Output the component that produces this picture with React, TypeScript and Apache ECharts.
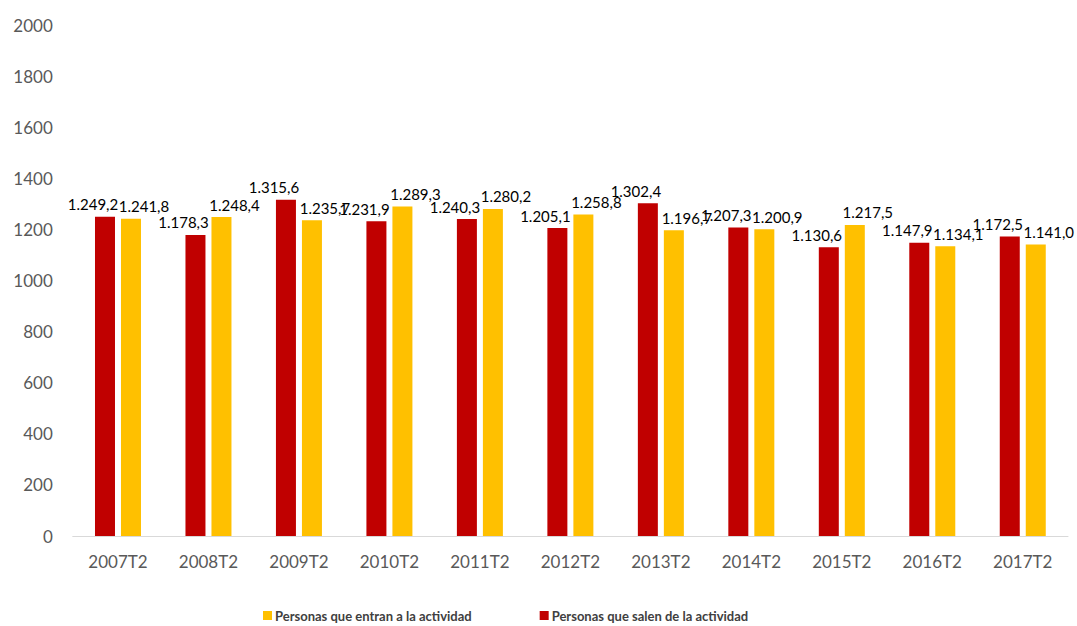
import React, { useEffect, useRef } from "react";
import * as echarts from "echarts";

const categories = ["2007T2", "2008T2", "2009T2", "2010T2", "2011T2", "2012T2", "2013T2", "2014T2", "2015T2", "2016T2", "2017T2"];
const salen = [1249.2, 1178.3, 1315.6, 1231.9, 1240.3, 1205.1, 1302.4, 1207.3, 1130.6, 1147.9, 1172.5];
const entran = [1241.8, 1248.4, 1235.7, 1289.3, 1280.2, 1258.8, 1196.7, 1200.9, 1217.5, 1134.1, 1141.0];
const nameEntran = "Personas que entran a la actividad";
const nameSalen = "Personas que salen de la actividad";

function fmt(v: number): string {
  const [i, d] = v.toFixed(1).split(".");
  return i.replace(/\B(?=(\d{3})+(?!\d))/g, ".") + "," + d;
}

export default function App() {
  const ref = useRef<HTMLDivElement>(null);
  useEffect(() => {
    const chart = echarts.init(ref.current!, null, { renderer: "svg" });
    const font = "Lato, 'Open Sans', sans-serif";
    chart.setOption({
      animation: false,
      textStyle: { fontFamily: font },
      grid: { left: 72.75, right: 9, top: 25, bottom: 90, containLabel: false },
      legend: {
        data: [nameEntran, nameSalen],
        left: 263,
        top: 609,
        itemWidth: 9,
        itemHeight: 9,
        itemGap: 68,
        icon: "rect",
        padding: 0,
        textStyle: { fontFamily: font, fontSize: 13, fontWeight: "bold", color: "#404040", padding: [0, 0, 0, -2] },
      },
      xAxis: {
        type: "category",
        data: categories,
        axisLine: { lineStyle: { color: "#d9d9d9", width: 1 } },
        axisTick: { show: false },
        axisLabel: { color: "#595959", fontSize: 17, margin: 17, fontFamily: font },
      },
      yAxis: {
        type: "value",
        min: 0,
        max: 2000,
        interval: 200,
        splitLine: { show: false },
        axisLine: { show: false },
        axisTick: { show: false },
        axisLabel: { color: "#595959", fontSize: 17, margin: 20, fontFamily: font, formatter: (v: number) => String(v) },
      },
      series: [
        {
          name: nameSalen,
          type: "bar",
          data: salen,
          barWidth: 20,
          barGap: "30%",
          itemStyle: { color: "#C00000" },
          label: {
            show: true,
            position: "top",
            offset: [-12, 0],
            color: "#000",
            fontSize: 15,
            fontFamily: font,
            formatter: (p: any) => fmt(p.value),
          },
        },
        {
          name: nameEntran,
          type: "bar",
          data: entran,
          barWidth: 20,
          barGap: "30%",
          itemStyle: { color: "#FFC000" },
          label: {
            show: true,
            position: "top",
            offset: [13, 0],
            color: "#000",
            fontSize: 15,
            fontFamily: font,
            formatter: (p: any) => fmt(p.value),
          },
        },
      ],
    });
    return () => chart.dispose();
  }, []);
  return <div ref={ref} style={{ width: 1077, height: 626, position: "absolute", left: 0, top: 0 }} />;
}
